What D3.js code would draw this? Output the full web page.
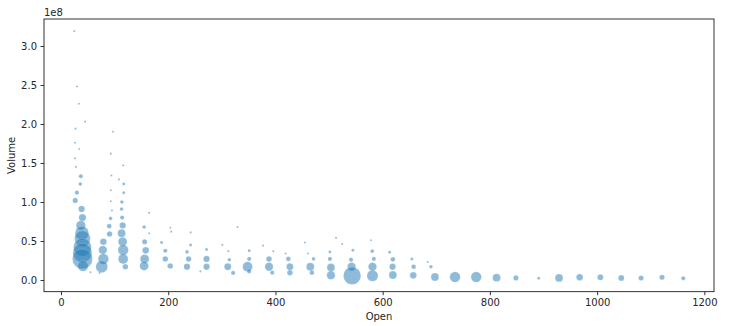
<!DOCTYPE html>
<html>
<head>
<meta charset="utf-8">
<script src="https://cdn.jsdelivr.net/npm/d3@7.9.0/dist/d3.min.js"></script>
<style>
  html, body { margin: 0; padding: 0; background: #fff; }
  text { font-family: "DejaVu Sans", sans-serif; font-size: 10px; fill: #262626; }
</style>
</head>
<body>
<svg id="chart"></svg>
<script>
const width = 754;
const height = 326;
const margin = {top: 19, right: 40, bottom: 34.3, left: 44};

// Open price, traded volume and bubble weight for each point
const open = [
  24.7, 29.7, 33.4, 45, 27.2, 26, 34, 26, 27.8, 37, 36, 29.7, 26.5,
  38.4, 40, 37, 39, 40, 40, 40, 40, 41,
  96.8, 93, 94, 93, 93, 95, 92.5, 90, 90.6,
  79, 78, 79, 76, 55, 72,
  116, 108, 117, 117, 113.6, 113, 114, 115, 113, 115, 116, 116, 120,
  164.5, 164.5, 155, 156, 158, 156, 155,
  204, 205.6, 187.6, 194.5, 194.5, 203.7,
  242, 241.7, 235, 238, 235, 260,
  271.5, 271.5, 271.5,
  301, 312, 314, 311, 321, 329,
  351, 351, 348, 351, 377,
  396, 388, 388, 394,
  419, 424, 427, 427,
  455, 460.5, 471, 465, 468,
  513, 524.5, 501.6, 501.6, 503.5, 503.5,
  544.5, 541, 542, 543,
  578, 580.5, 583.5, 581, 581,
  613, 619, 618.5, 619,
  654.5, 657.7, 657,
  684, 690, 697.5,
  735, 774.5, 812.5, 848.5, 891, 929, 967.4, 1006, 1045, 1082, 1121, 1160.6
];
const volume = [
  3.19e8, 2.48e8, 2.26e8, 2.03e8, 1.94e8, 1.76e8, 1.68e8, 1.56e8, 1.45e8, 1.33e8, 1.23e8, 1.12e8, 1.02e8,
  0.91e8, 0.80e8, 0.70e8, 0.60e8, 0.53e8, 0.42e8, 0.35e8, 0.27e8, 0.18e8,
  1.90e8, 1.62e8, 1.34e8, 1.15e8, 1.01e8, 0.89e8, 0.79e8, 0.69e8, 0.59e8,
  0.49e8, 0.385e8, 0.27e8, 0.17e8, 0.10e8, 0.09e8,
  1.47e8, 1.29e8, 1.23e8, 1.12e8, 1.00e8, 0.91e8, 0.80e8, 0.70e8, 0.60e8, 0.49e8, 0.385e8, 0.27e8, 0.17e8,
  0.86e8, 0.60e8, 0.68e8, 0.49e8, 0.38e8, 0.27e8, 0.18e8,
  0.67e8, 0.62e8, 0.48e8, 0.375e8, 0.27e8, 0.18e8,
  0.61e8, 0.45e8, 0.36e8, 0.27e8, 0.17e8, 0.11e8,
  0.39e8, 0.27e8, 0.17e8,
  0.45e8, 0.37e8, 0.26e8, 0.17e8, 0.09e8, 0.68e8,
  0.375e8, 0.27e8, 0.17e8, 0.11e8, 0.44e8,
  0.37e8, 0.27e8, 0.17e8, 0.094e8,
  0.34e8, 0.27e8, 0.17e8, 0.094e8,
  0.48e8, 0.34e8, 0.27e8, 0.17e8, 0.094e8,
  0.54e8, 0.46e8, 0.36e8, 0.27e8, 0.16e8, 0.06e8,
  0.38e8, 0.26e8, 0.17e8, 0.055e8,
  0.51e8, 0.37e8, 0.27e8, 0.17e8, 0.055e8,
  0.355e8, 0.265e8, 0.17e8, 0.064e8,
  0.27e8, 0.17e8, 0.06e8,
  0.23e8, 0.17e8, 0.038e8,
  0.038e8, 0.038e8, 0.03e8, 0.027e8, 0.022e8, 0.027e8, 0.035e8, 0.035e8, 0.026e8, 0.026e8, 0.035e8, 0.022e8
];
const weight = [
  1, 1, 1, 1, 1, 1, 1, 1, 1, 4, 3, 4, 6,
  9, 12, 20, 42, 56, 72, 81, 90, 25,
  1, 1, 1, 1, 1, 1, 3, 5, 7,
  10, 16, 25, 32, 1, 1,
  1, 1, 2, 2, 3, 3, 4, 9, 14, 18, 25, 22, 7,
  1, 1, 3, 6, 10, 18, 18,
  1, 1, 2, 4, 7, 7,
  1, 2, 3, 7, 9, 1,
  2, 9, 9,
  1, 1, 3, 11, 4, 1,
  2, 4, 22, 4, 1,
  1, 7, 16, 4,
  1, 5, 11, 7,
  1, 1, 3, 14, 5,
  1, 1, 2, 4, 14, 16,
  2, 4, 16, 69,
  1, 3, 4, 16, 28,
  2, 5, 9, 14,
  2, 5, 10,
  1, 3, 14,
  25, 25, 14, 6, 2, 14, 10, 8, 8, 6, 6, 4
];
const xTicks = [0, 200, 400, 600, 800, 1000, 1200];
const yTicks = [0, 0.5e8, 1.0e8, 1.5e8, 2.0e8, 2.5e8, 3.0e8];

const points = open.map((d, i) => ({open: d, volume: volume[i], weight: weight[i]}));

const svg = d3.select("#chart").attr("width", width).attr("height", height);

const x = d3.scaleLinear().domain([-31.7, 1218]).range([margin.left, width - margin.right]);
const y = d3.scaleLinear().domain([-0.15e8, 3.346e8]).range([height - margin.bottom, margin.top]);
const r = d3.scaleSqrt().domain([0, d3.max(weight)]).range([0, 10]);

// bubbles
svg.append("g")
  .selectAll("circle")
  .data(points)
  .join("circle")
  .attr("cx", d => x(d.open))
  .attr("cy", d => y(d.volume))
  .attr("r", d => r(d.weight))
  .attr("fill", "#1f77b4")
  .attr("fill-opacity", 0.5)
  .attr("stroke", "#fff")
  .attr("stroke-opacity", 0.35)
  .attr("stroke-width", 0.5);

// axes
const xAxis = svg.append("g")
  .attr("transform", `translate(0,${height - margin.bottom})`)
  .call(d3.axisBottom(x).tickValues(xTicks).tickSize(3.5).tickPadding(3.5).tickFormat(d3.format("d")));

const yAxis = svg.append("g")
  .attr("transform", `translate(${margin.left},0)`)
  .call(d3.axisLeft(y).tickValues(yTicks).tickSize(3.5).tickPadding(3.5).tickFormat(d => (d / 1e8).toFixed(1)));

[xAxis, yAxis].forEach(a => {
  a.select(".domain").remove();
  a.selectAll(".tick line").attr("stroke", "#000").attr("stroke-width", 0.8);
  a.selectAll(".tick text").style("font-family", "DejaVu Sans").style("font-size", "10px").attr("fill", "#262626");
});

// frame
svg.append("rect")
  .attr("x", margin.left)
  .attr("y", margin.top)
  .attr("width", width - margin.left - margin.right)
  .attr("height", height - margin.top - margin.bottom)
  .attr("fill", "none")
  .attr("stroke", "#000")
  .attr("stroke-width", 0.8);

svg.append("text")
  .attr("x", margin.left)
  .attr("y", 16)
  .text("1e8");

svg.append("text")
  .attr("x", (margin.left + width - margin.right) / 2)
  .attr("y", 320)
  .attr("text-anchor", "middle")
  .text("Open");

svg.append("text")
  .attr("transform", `translate(15,${(margin.top + height - margin.bottom) / 2}) rotate(-90)`)
  .attr("text-anchor", "middle")
  .text("Volume");
</script>
</body>
</html>
